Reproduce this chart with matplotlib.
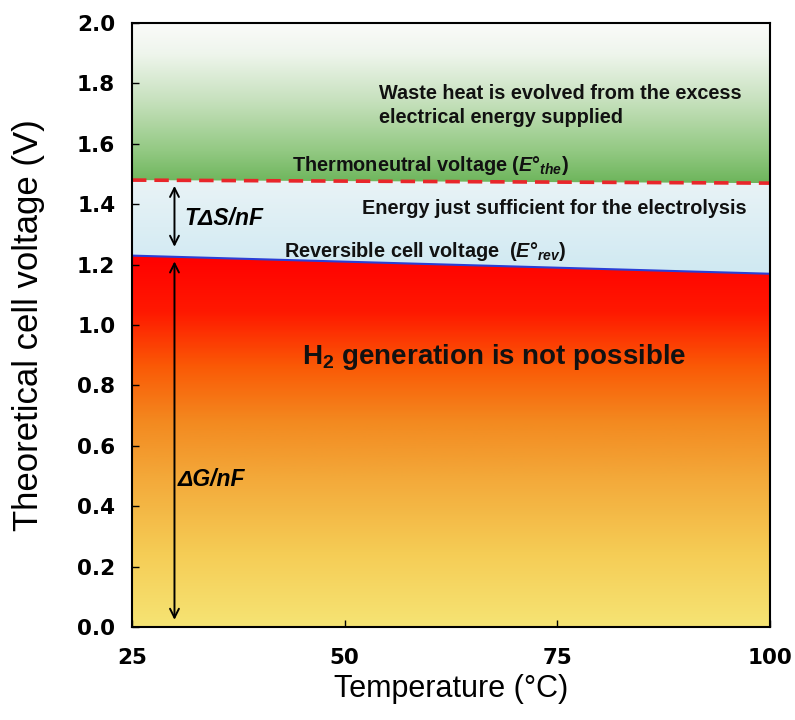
import numpy as np
import matplotlib
matplotlib.use("Agg")
import matplotlib.pyplot as plt
from matplotlib.colors import LinearSegmentedColormap
from matplotlib.patches import Polygon

plt.rcParams['font.family'] = ['Liberation Sans', 'DejaVu Sans']
plt.rcParams['mathtext.fontset'] = 'custom'
plt.rcParams['mathtext.rm'] = 'Liberation Sans:bold'
plt.rcParams['mathtext.it'] = 'Liberation Sans:italic:bold'
plt.rcParams['mathtext.bf'] = 'Liberation Sans:bold'

# Data
temperature = [25, 100]
e_rev = [1.23, 1.17]          # reversible cell voltage (V)
e_the = [1.48, 1.47]          # thermoneutral voltage (V)
x_ticks = [25, 50, 75, 100]
y_ticks = [0.0, 0.2, 0.4, 0.6, 0.8, 1.0, 1.2, 1.4, 1.6, 1.8, 2.0]
arrow_temp = 30

fig = plt.figure(figsize=(7.95, 7.2), dpi=100)
ax = fig.add_axes([0.166, 0.129, 0.802, 0.839])
ax.set_xlim(25, 100)
ax.set_ylim(0, 2.0)


def gradient_fill(ax, xs, y_low, y_high, ylo, yhi, colors):
    cmap = LinearSegmentedColormap.from_list("g", colors)
    grad = np.linspace(0, 1, 256).reshape(-1, 1)
    im = ax.imshow(grad, cmap=cmap, aspect='auto', origin='lower',
                   extent=[xs[0], xs[-1], ylo, yhi], zorder=0,
                   interpolation='bicubic')
    verts = list(zip(xs, y_low)) + list(zip(xs[::-1], y_high[::-1]))
    poly = Polygon(verts, closed=True, transform=ax.transData,
                   facecolor='none', edgecolor='none')
    ax.add_patch(poly)
    im.set_clip_path(poly)


# Region below reversible voltage: yellow -> orange -> red
gradient_fill(ax, temperature, [0, 0], e_rev, 0, 1.23,
              [(0.0, '#f6e474'), (0.2, '#f5cc55'), (0.4, '#f3a93a'),
               (0.55, '#f38a20'), (0.7, '#fa5a06'), (0.85, '#ff1800'),
               (1.0, '#ff0000')])
# Region between reversible and thermoneutral voltage: light blue
gradient_fill(ax, temperature, e_rev, e_the, 1.17, 1.48,
              [(0.0, '#cfe9f2'), (1.0, '#e9f3f6')])
# Region above thermoneutral voltage: green -> white
gradient_fill(ax, temperature, e_the, [2.0, 2.0], 1.47, 2.0,
              [(0.0, '#6db55b'), (0.2, '#93c983'), (0.5, '#c5e0bb'),
               (0.8, '#eef5ec'), (1.0, '#fbfbfa')])

ax.plot(temperature, e_rev, color='#2a3fd6', lw=1.5, zorder=3)
ax.plot(temperature, e_the, color='#e8262a', lw=2.6, ls=(0, (4, 2.2)), zorder=3)

# Arrows
ax.annotate('', xy=(arrow_temp, e_the[0] - 0.01), xytext=(arrow_temp, e_rev[0] + 0.02),
            arrowprops=dict(arrowstyle='<->', lw=1.4, color='black',
                            mutation_scale=16), zorder=4)
ax.annotate('', xy=(arrow_temp, 0.015), xytext=(arrow_temp, e_rev[0] - 0.01),
            arrowprops=dict(arrowstyle='<->', lw=1.4, color='black',
                            mutation_scale=16), zorder=4)

tkw = dict(fontsize=14.3, fontweight='bold', color='#111111', zorder=5)
ax.text(54.0, 1.727, 'Waste heat is evolved from the excess\nelectrical energy supplied',
        va='center', ha='left', linespacing=1.35, **tkw)
ax.text(43.8, 1.527, r'Thermoneutral voltage ($E°_{the}$)',
        va='center', ha='left', **tkw)
ax.text(52.1, 1.386, 'Energy just sufficient for the electrolysis',
        va='center', ha='left', **tkw)
ax.text(42.9, 1.243, r'Reversible cell voltage  ($E°_{rev}$)',
        va='center', ha='left', **tkw)
ax.text(31.2, 1.352, 'TΔS/nF', fontsize=16.5, fontweight='bold', fontstyle='italic',
        va='center', ha='left', zorder=5)
ax.text(30.4, 0.49, 'ΔG/nF', fontsize=16.5, fontweight='bold', fontstyle='italic',
        va='center', ha='left', zorder=5)
ax.text(45.0, 0.895, r'H$_2$ generation is not possible', fontsize=20,
        fontweight='bold', color='#111111', va='center', ha='left', zorder=5)

ax.set_xticks(x_ticks)
ax.set_yticks(y_ticks)
tick_font = dict(family='DejaVu Sans', size=15.5, weight='bold')
ax.set_xticklabels([str(t) for t in x_ticks], fontdict=tick_font)
ax.set_yticklabels([f'{v:.1f}' for v in y_ticks], fontdict=tick_font)
ax.tick_params(direction='in', length=5, width=1)
ax.tick_params(axis='y', pad=12)
ax.tick_params(axis='x', pad=15)
for s in ax.spines.values():
    s.set_linewidth(1.5)
    s.set_zorder(6)

ax.set_xlabel('Temperature (°C)', fontsize=22, labelpad=4)
ax.set_ylabel('Theoretical cell voltage (V)', fontsize=25)
ax.yaxis.set_label_coords(-0.136, 0.5)

fig.savefig('out.png', dpi=100)
